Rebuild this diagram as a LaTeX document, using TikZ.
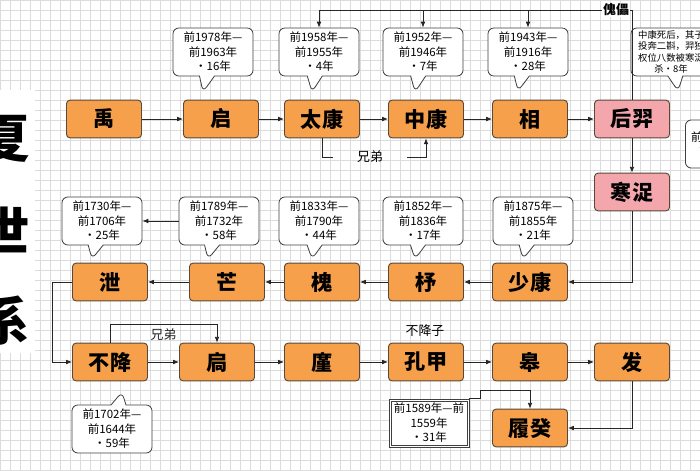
\documentclass[tikz,border=0pt]{standalone}
\usepackage{fontspec}
\setmainfont{Noto Sans CJK SC}
\usetikzlibrary{shapes.callouts,arrows.meta}

\definecolor{kingfill}{HTML}{F6A04B}
\definecolor{usurpfill}{HTML}{F3A6AC}
\definecolor{kingedge}{HTML}{5A4838}
\definecolor{gridgray}{HTML}{DCDCDC}

\begin{document}
\begin{tikzpicture}[x=0.03cm,y=-0.03cm,
    king/.style={draw=kingedge,fill=kingfill,rounded corners=3pt,line width=0.8pt,
        minimum width=2.25cm,minimum height=1.13cm,font=\fontsize{18}{20}\selectfont\bfseries},
    usurper/.style={king,fill=usurpfill},
    reign/.style={rectangle callout,draw=black!75,fill=white,rounded corners=5pt,line width=0.7pt,
        minimum width=2.4cm,minimum height=1.44cm,align=center,inner sep=1pt,
        callout pointer width=0.45cm,font=\fontsize{9.8}{12.3}\selectfont},
    tally/.style={draw=black!75,line width=0.6pt,fill=white,
        minimum width=2.4cm,minimum height=1.44cm,align=center,inner sep=1pt,
        font=\fontsize{9.8}{12.3}\selectfont},
    link/.style={-{Latex[length=5pt,width=4pt]},line width=0.7pt,black!85},
    wire/.style={line width=0.7pt,black!85},
    tag/.style={font=\fontsize{11}{13}\selectfont}]

\useasboundingbox (0,0) rectangle (700,470);
\fill[white] (0,0) rectangle (700,470);
\foreach \g in {0,10,...,700} \draw[gridgray,line width=0.3pt] (\g,0) -- (\g,470);
\foreach \g in {0,10,...,470} \draw[gridgray,line width=0.3pt] (0,\g) -- (700,\g);

% title
\fill[white] (0,90) rectangle (35,353);
\foreach \t [count=\i] in {夏,世,系}
    \node[font=\fontsize{44}{44}\selectfont\bfseries] (title\i) at (4,48+91*\i) {\t};

% first row
\node[king] (yu) at (104,119) {禹};
\node[king] (qi) at (221,119) {启};
\node[king] (taikang) at (322,119) {太康};
\node[king] (zhongkang) at (426,119) {中康};
\node[king] (xiang) at (530,119) {相};
\node[usurper] (houyi) at (632,119) {后羿};
\node[usurper] (hanzhuo) at (632,192) {寒浞};

% second row
\node[king] (xie) at (110,282) {泄};
\node[king] (mang) at (227,282) {芒};
\node[king] (huai) at (322,282) {槐};
\node[king] (zhu) at (426,282) {杼};
\node[king] (shaokang) at (530,282) {少康};

% third row
\node[king] (bujiang) at (110,362) {不降};
\node[king] (jiong) at (217,362) {扃};
\node[king] (jin) at (322,362) {廑};
\node[king] (kongjia) at (426,362) {孔甲};
\node[king] (gao) at (530,362) {皋};
\node[king] (fa) at (632,362) {发};
\node[king] (lugui) at (530,428) {履癸};

% reigns
\node[reign,callout absolute pointer={(203,92)}] (qinote) at (213,52) {前1978年—\\前1963年\\・16年};
\node[reign,callout absolute pointer={(312,92)}] (taikangnote) at (319,52) {前1958年—\\前1955年\\・4年};
\node[reign,callout absolute pointer={(415,92)}] (zhongkangnote) at (423,52) {前1952年—\\前1946年\\・7年};
\node[reign,callout absolute pointer={(518,91)}] (xiangnote) at (528,52) {前1943年—\\前1916年\\・28年};
\node[reign,callout absolute pointer={(678,91)},font=\fontsize{8}{9.8}\selectfont] (houyinote) at (671,52)
    {中康死后，其子\\投奔二斟，羿独\\权位八数被寒浞\\杀・8年};
\node[reign,callout relative pointer={(0:1cm)},anchor=west,align=left,text width=2.2cm] (hanzhuonote) at (685,144)
    {\hspace*{2pt}前\\\hspace*{9pt}前};
\node[reign,callout absolute pointer={(92,259)}] (xienote) at (102,221) {前1730年—\\前1706年\\・25年};
\node[reign,callout absolute pointer={(208,259)}] (mangnote) at (219,221) {前1789年—\\前1732年\\・58年};
\node[reign,callout absolute pointer={(312,259)}] (huainote) at (319,221) {前1833年—\\前1790年\\・44年};
\node[reign,callout absolute pointer={(415,259)}] (zhunote) at (423,221) {前1852年—\\前1836年\\・17年};
\node[reign,callout absolute pointer={(523,259)}] (shaokangnote) at (533,221) {前1875年—\\前1855年\\・21年};
\node[reign,callout absolute pointer={(122,392)}] (bujiangnote) at (112,429) {前1702年—\\前1644年\\・59年};
\node[tally] (kongjianote) at (429,423) {前1589年—前\\1559年\\・31年};
\draw[black!75,line width=0.6pt] ([shift={(2pt,-2pt)}]kongjianote.north west)
    rectangle ([shift={(-2pt,2pt)}]kongjianote.south east);

% succession
\path [link] (yu) edge (qi) (qi) edge (taikang) (taikang) edge (zhongkang)
    (zhongkang) edge (xiang) (xiang) edge (houyi) (houyi) edge (hanzhuo);
\draw[link] (hanzhuo.south) |- (shaokang.east);
\path [link] (shaokang) edge (zhu) (zhu) edge (huai) (huai) edge (mang) (mang) edge (xie);
\draw[link] (mangnote.west) -- (xienote.east);
\draw[link] (xie.west) -- ++(-20,0) |- (bujiang.west);
\path [link] (bujiang) edge (jiong) (jiong) edge (jin) (jin) edge (kongjia)
    (kongjia) edge (gao) (gao) edge (fa);
\draw[link] (fa.south) |- (lugui.east);
\draw[link] (kongjianote.north east) -- ++(11,0) -- ++(0,-8) -| (lugui.north);

% brothers
\node[tag,minimum width=2.2cm] (brothers1) at (370,157) {兄弟};
\draw[wire] (taikang.south) |- (brothers1.west);
\draw[link] (brothers1.east) -| (zhongkang.south);
\draw[link] (bujiang.north) -- ++(0,-18) -| (jiong.north) node[tag,pos=0.25,below] (brothers2) {兄弟};
\node[tag] (bujiangzi) at (425,331) {不降子};

% puppets
\coordinate (kuilei) at (632,10);
\draw[wire] (houyi.north) -- (kuilei) -- (kuilei -| taikangnote.north);
\foreach \n in {taikangnote,zhongkangnote,xiangnote}
    \draw[link] (kuilei -| \n.north) -- (\n.north);
\node[tag,fill=white,inner sep=1pt,font=\fontsize{11}{13}\selectfont\bfseries] (kuileitag) at (616,10) {傀儡};
\end{tikzpicture}
\end{document}
